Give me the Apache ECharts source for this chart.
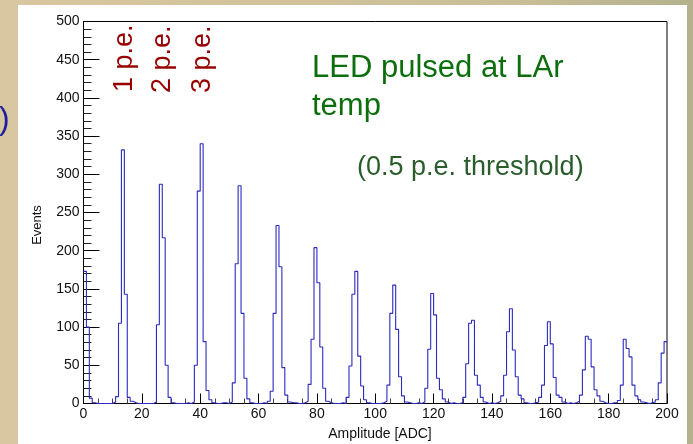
<!DOCTYPE html>
<html>
<head>
<meta charset="utf-8">
<title>LED pulsed at LAr temp</title>
<script src="https://cdn.jsdelivr.net/npm/echarts/dist/echarts.min.js"></script>
<style>
  html, body { margin: 0; padding: 0; }
  #main {
    width: 693px; height: 444px;
    background:
      linear-gradient(#fff, #fff) 18px 5px / 669px 439px no-repeat,
      linear-gradient(90deg, #d9c7a1 0%, #d2c29c 40%, #c8bd97 75%, #b3b28c 100%);
  }
</style>
</head>
<body>
<div id="main"></div>
<script>
// bin edges: 0..200 ADC, 1 ADC per bin
var binStart = 0;
var binWidth = 1;
// counts per bin (200 bins)
var counts = [
  173,100,  7,  1,  0,  0,  0,  0,  0,  0,  2,  9,105,332,143,  8,  3,  1,  0,  0,   // 0-19
    0,  0,  0,  0,  2,103,287,217, 50,  8,  1,  0,  0,  0,  0,  1,  0,  2, 50,278,   // 20-39
  340, 81, 17,  5,  1,  0,  0,  1,  1,  0,  2, 27,183,285,118, 33,  6,  1,  0,  0,   // 40-59
    0,  1,  0,  3, 16,118,233,179, 47, 11,  2,  1,  1,  0,  0,  1,  3, 25, 84,204,   // 60-79
  158, 74, 20,  3,  1,  0,  0,  0,  1,  0,  8, 49,143,173, 62, 23,  5,  1,  0,  0,   // 80-99
    0,  0,  1,  3, 24,118,155, 97, 35, 10,  2,  1,  0,  0,  1,  0,  2, 20, 71,144,   // 100-119
  116, 33, 18,  6,  2,  0,  1,  0,  0,  1,  8, 52,105,109, 37, 24,  8,  2,  0,  1,   // 120-139
    0,  1,  3, 10, 37, 94,124, 70, 35, 11,  6,  1,  0,  0,  1,  2,  8, 24, 76,107,   // 140-159
   78, 34, 11,  8,  2,  0,  1,  0,  1,  3, 11, 44, 88, 84, 48, 18, 10,  3,  1,  0,   // 160-179
    0,  1,  1,  4, 24, 84, 72, 61, 24, 10,  5,  2,  1,  0,  1,  2,  5, 27, 66, 81    // 180-199
];
var peLabels = ['1 p.e.', '2 p.e.', '3 p.e.'];
var noteLines = ['LED pulsed at LAr', 'temp'];
var noteSub = '(0.5 p.e. threshold)';

// step points: left edge of each bin, plus closing point at the upper edge
var stepData = [];
for (var i = 0; i < counts.length; i++) {
  stepData.push([binStart + i * binWidth, counts[i]]);
}
stepData.push([binStart + counts.length * binWidth, counts[counts.length - 1]]);

var font = '"Liberation Sans", Arial, sans-serif';
var chart = echarts.init(document.getElementById('main'));

var option = {
  animation: false,
  grid: {
    left: 83.5,
    right: 26,
    top: 21.5,
    bottom: 40.5,
    show: true,
    borderColor: '#000',
    borderWidth: 1,
    backgroundColor: 'transparent'
  },
  xAxis: {
    type: 'value',
    min: 0,
    max: 200,
    interval: 20,
    axisLine: { onZero: false, lineStyle: { color: '#000', width: 1 } },
    axisTick: { inside: true, length: 10, lineStyle: { color: '#000' } },
    minorTick: { show: true, splitNumber: 4, length: 5, lineStyle: { color: '#444' } },
    axisLabel: { color: '#111', fontSize: 14, fontFamily: font, margin: 4 },
    splitLine: { show: false }
  },
  yAxis: {
    type: 'value',
    min: 0,
    max: 500,
    interval: 50,
    axisLine: { show: true, onZero: false, lineStyle: { color: '#000', width: 1 } },
    axisTick: { show: true, inside: true, length: 16, lineStyle: { color: '#000' } },
    minorTick: { show: true, splitNumber: 5, length: 8, lineStyle: { color: '#222' } },
    axisLabel: { color: '#111', fontSize: 14, fontFamily: font, margin: 4 },
    splitLine: { show: false }
  },
  series: [
    {
      type: 'line',
      step: 'end',
      data: stepData,
      symbol: 'none',
      clip: true,
      lineStyle: { color: '#2b2bbf', width: 1.1 }
    }
  ],
  graphic: [
    // 轴标题
    { type: 'text', x: 380, y: 434, z: 100,
      style: { text: 'Amplitude [ADC]', fill: '#111', font: '14px ' + font, align: 'center', verticalAlign: 'middle' } },
    { type: 'text', x: 37, y: 225, rotation: Math.PI / 2, z: 100,
      style: { text: 'Events', fill: '#111', font: '13px ' + font, align: 'center', verticalAlign: 'middle' } },
    // p.e. 标注
    { type: 'text', x: 125, y: 92, rotation: Math.PI / 2, z: 100,
      style: { text: peLabels[0], fill: '#960000', font: '27px ' + font, align: 'left', verticalAlign: 'middle' } },
    { type: 'text', x: 163, y: 93, rotation: Math.PI / 2, z: 100,
      style: { text: peLabels[1], fill: '#960000', font: '27px ' + font, align: 'left', verticalAlign: 'middle' } },
    { type: 'text', x: 203, y: 93, rotation: Math.PI / 2, z: 100,
      style: { text: peLabels[2], fill: '#960000', font: '27px ' + font, align: 'left', verticalAlign: 'middle' } },
    // 说明文字
    { type: 'text', x: 312, y: 68, z: 100,
      style: { text: noteLines[0], fill: '#0d6e0d', font: '31px ' + font, align: 'left', verticalAlign: 'middle' } },
    { type: 'text', x: 312, y: 106, z: 100,
      style: { text: noteLines[1], fill: '#0d6e0d', font: '31px ' + font, align: 'left', verticalAlign: 'middle' } },
    { type: 'text', x: 357, y: 168, z: 100,
      style: { text: noteSub, fill: '#2b5c2b', font: '27px ' + font, align: 'left', verticalAlign: 'middle' } },
    // 幻灯片左侧残留的括号
    { type: 'text', x: -1, y: 120, z: 100,
      style: { text: ')', fill: '#1f1f9e', font: '32px ' + font, align: 'left', verticalAlign: 'middle' } }
  ]
};
chart.setOption(option);
</script>
</body>
</html>
